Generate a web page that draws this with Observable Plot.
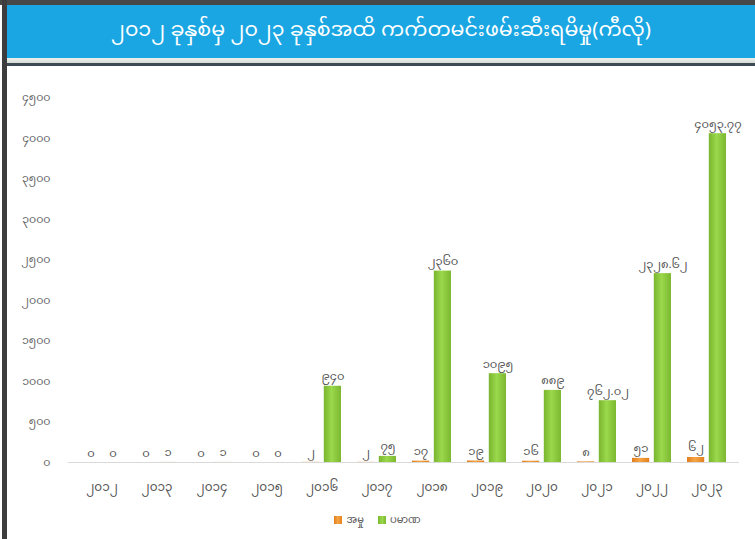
<!DOCTYPE html>
<html>
<head>
<meta charset="utf-8">
<script src="https://cdn.jsdelivr.net/npm/d3@7"></script>
<script src="https://cdn.jsdelivr.net/npm/@observablehq/plot@0.6"></script>
<style>
  html, body { margin: 0; padding: 0; background: #fff; }
  body { width: 755px; height: 539px; overflow: hidden; position: relative;
         font-family: 'Noto Sans Myanmar', 'Padauk', 'Myanmar Text', 'Noto Sans', sans-serif; }
  .abs { position: absolute; }
  #title { left: 7px; right: 0; top: 5px; height: 53px; background: #19a6e2; color: #fff;
           font-size: 20.6px; display: flex; align-items: center; justify-content: center; }
  #chart { left: 0; top: 70px; }
  #legend { left: 0; right: 0; top: 510px; display: flex; justify-content: center; gap: 14px;
            font-size: 10px; color: #555; align-items: center; }
  .sw { display: inline-block; width: 8px; height: 8px; margin-right: 4px; vertical-align: middle; }
</style>
</head>
<body>
<div class="abs" style="left:0;top:0;right:0;height:5px;background:#474747"></div>
<div class="abs" style="left:2px;top:0;width:5px;height:539px;background:#3d3d3d"></div>
<div class="abs" id="title"></div>
<div class="abs" style="left:7px;right:0;top:58px;height:5px;background:linear-gradient(#eef0ec,#d6dbd6)"></div>
<div class="abs" style="left:7px;right:0;top:63px;height:3px;background:#3e4b55"></div>
<div class="abs" id="chart"></div>
<div class="abs" id="legend"></div>
<script>
const titleText = "၂၀၁၂ ခုနှစ်မှ ၂၀၂၃ ခုနှစ်အထိ ကက်တမင်းဖမ်းဆီးရမိမှု(ကီလို)";
const years = ["၂၀၁၂","၂၀၁၃","၂၀၁၄","၂၀၁၅","၂၀၁၆","၂၀၁၇","၂၀၁၈","၂၀၁၉","၂၀၂၀","၂၀၂၁","၂၀၂၂","၂၀၂၃"];
const cases = [0, 0, 0, 0, 2, 2, 17, 19, 16, 8, 51, 62];
const quantity = [0, 1, 1, 0, 940, 75, 2360, 1095, 889, 762.02, 2328.62, 4053.77];
const seriesNames = ["အမှု", "ပမာဏ"];
const yTicks = [0, 500, 1000, 1500, 2000, 2500, 3000, 3500, 4000, 4500];

const my = v => String(v).replace(/\d/g, d => "၀၁၂၃၄၅၆၇၈၉"[+d]);
const casesData = years.map((y, i) => ({year: y, value: cases[i]}));
const qtyData = years.map((y, i) => ({year: y, value: quantity[i]}));

document.getElementById("title").textContent = titleText;

const bw = 39.1, barW = 17.3, inset = bw - barW, off = (bw - barW) / 2 + 0.1;
const plot = Plot.plot({
  width: 755,
  height: 440,
  marginLeft: 68,
  marginRight: 16,
  marginTop: 27,
  marginBottom: 48,
  style: {fontFamily: "'Noto Sans Myanmar', 'Padauk', 'Myanmar Text', 'Noto Sans', sans-serif", background: "transparent"},
  x: {type: "band", domain: years, paddingInner: 0.3, paddingOuter: 0.15, label: null,
      tickSize: 0, tickPadding: 20},
  y: {domain: [0, 4500], ticks: yTicks, tickFormat: my, label: null, tickSize: 0, tickPadding: 18},
  marks: [
    Plot.ruleY([0], {stroke: "#d9d9d9", strokeWidth: 1.2}),
    Plot.barY(casesData, {x: "year", y: "value", fill: "url(#gOrange)", insetRight: inset}),
    Plot.barY(qtyData, {x: "year", y: "value", fill: "url(#gGreen)", insetLeft: inset}),
    Plot.text(casesData, {x: "year", y: "value", text: d => my(d.value), dx: -off, dy: -6,
      lineAnchor: "bottom", fill: "#555", fontSize: 11.5}),
    Plot.text(qtyData, {x: "year", y: "value", text: d => my(d.value), dx: off, dy: -6,
      lineAnchor: "bottom", fill: "#555", fontSize: 11.5})
  ]
});
const svgNS = "http://www.w3.org/2000/svg";
const defs = document.createElementNS(svgNS, "defs");
defs.innerHTML = `
  <linearGradient id="gGreen" x1="0" x2="1" y1="0" y2="0">
    <stop offset="0" stop-color="#79b52e"/><stop offset="0.45" stop-color="#9ad84c"/>
    <stop offset="1" stop-color="#7cb830"/></linearGradient>
  <linearGradient id="gOrange" x1="0" x2="1" y1="0" y2="0">
    <stop offset="0" stop-color="#e07c1c"/><stop offset="0.45" stop-color="#f7a545"/>
    <stop offset="1" stop-color="#e2801e"/></linearGradient>`;
plot.insertBefore(defs, plot.firstChild);
plot.querySelectorAll('g[aria-label^="x-axis"]').forEach(g => { g.setAttribute("font-size", "12"); g.setAttribute("fill", "#555"); });
plot.querySelectorAll('g[aria-label^="y-axis"]').forEach(g => { g.setAttribute("font-size", "11"); g.setAttribute("fill", "#666"); });
document.getElementById("chart").appendChild(plot);

const legend = document.getElementById("legend");
const swatchFill = ["linear-gradient(90deg,#e07c1c,#f7a545,#e2801e)", "linear-gradient(90deg,#79b52e,#9ad84c,#7cb830)"];
seriesNames.forEach((name, i) => {
  const item = document.createElement("span");
  const sw = document.createElement("span");
  sw.className = "sw";
  sw.style.background = swatchFill[i];
  item.appendChild(sw);
  item.appendChild(document.createTextNode(name));
  legend.appendChild(item);
});
</script>
</body>
</html>
